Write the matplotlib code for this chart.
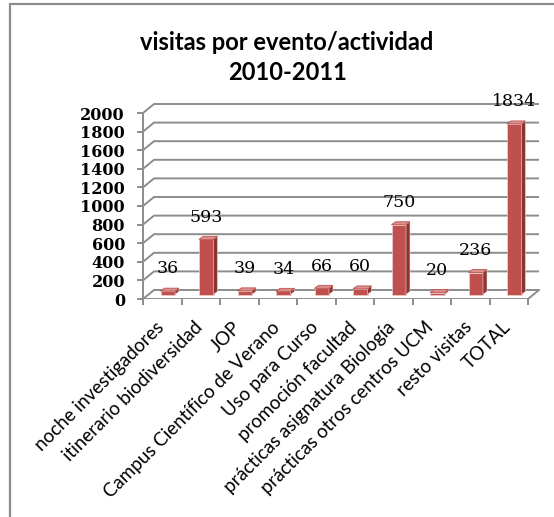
"""
Visitas por evento/actividad 2010-2011 - 3D style column chart
"""

import matplotlib
matplotlib.use('Agg')
import matplotlib.pyplot as plt
import matplotlib.transforms as mtransforms
from matplotlib.patches import Polygon, Rectangle

# data
categories = ['noche investigadores', 'itinerario biodiversidad', 'JOP',
              'Campus Científico de Verano', 'Uso para Curso', 'promoción facultad',
              'prácticas asignatura Biología', 'prácticas otros centros UCM',
              'resto visitas', 'TOTAL']
visits = [36, 593, 39, 34, 66, 60, 750, 20, 236, 1834]
y_ticks = [0, 200, 400, 600, 800, 1000, 1200, 1400, 1600, 1800, 2000]

W, H = 554, 517
px_x = 38.5      # pixels per category
px_y = 0.093     # pixels per visit unit

# depth of the back wall, in data units
wall_dx = 11 / px_x
wall_dy = 9 / px_y
# depth of each bar
bar_dx = 4 / px_x
bar_dy = 3 / px_y
bar_w = 14.5 / px_x

grey = '#8c8c8c'
front = '#c0504d'
side = '#8b3533'
top = '#d9908e'

fig = plt.figure(figsize=(W / 100, H / 100), dpi=100)
xlim = (-0.5, len(categories) - 0.5 + wall_dx + 0.15)
ylim = (0, 2150)
ax = fig.add_axes([143 / W, (H - 299) / H,
                   (xlim[1] - xlim[0]) * px_x / W, (ylim[1] - ylim[0]) * px_y / H])
ax.set_xlim(*xlim)
ax.set_ylim(*ylim)

x0 = -0.5
x1 = len(categories) - 0.5

# back wall gridlines with the slant on the left side
for v in y_ticks:
    ax.plot([x0, x0 + wall_dx, x1 + wall_dx], [v, v + wall_dy, v + wall_dy],
            color=grey, lw=1.4, zorder=1, solid_capstyle='butt')
# floor front edge and right edge
ax.plot([x0, x1, x1 + wall_dx], [0, 0, wall_dy], color=grey, lw=1.4, zorder=1)

# bars at half depth
xs = [i + wall_dx / 2 for i in range(len(categories))]
base = wall_dy / 2
bars = ax.bar(xs, visits, width=bar_w, bottom=base, color=front,
              edgecolor='#f2dcdb', linewidth=0.4, zorder=3)
for b in bars:
    l, r = b.get_x(), b.get_x() + b.get_width()
    t = b.get_y() + b.get_height()
    ax.add_patch(Polygon([(r, base), (r + bar_dx, base + bar_dy),
                          (r + bar_dx, t + bar_dy), (r, t)],
                         closed=True, facecolor=side, edgecolor='#f2dcdb',
                         linewidth=0.4, zorder=3))
    ax.add_patch(Polygon([(l, t), (l + bar_dx, t + bar_dy),
                          (r + bar_dx, t + bar_dy), (r, t)],
                         closed=True, facecolor=top, edgecolor=front,
                         linewidth=0.6, zorder=4))

# value labels
for x, v in zip(xs, visits):
    ax.annotate(str(v), (x, v + base), xytext=(0, 16), textcoords='offset points',
                ha='center', va='center', fontsize=12.5, family='DejaVu Serif',
                color='black', zorder=5)

# axes
for s in ['top', 'right', 'bottom']:
    ax.spines[s].set_visible(False)
ax.spines['left'].set_bounds(0, 2000)
ax.spines['left'].set_color(grey)
ax.spines['left'].set_linewidth(1.4)
ax.set_yticks(y_ticks)
ax.set_yticklabels([str(t) for t in y_ticks], family='DejaVu Serif',
                   fontweight='bold', fontsize=11.5)
ax.tick_params(axis='y', length=4, width=1.4, color=grey, pad=9)

ax.set_xticks([x0 + i for i in range(len(categories) + 1)])
ax.set_xticklabels([])
ax.tick_params(axis='x', which='major', length=4, width=1.4, color=grey)
ax.set_xticks(list(range(len(categories))), minor=True)
ax.set_xticklabels(categories, minor=True, rotation=45, ha='right', va='top',
                   rotation_mode='anchor', family='Lato', fontsize=13.5)
ax.tick_params(axis='x', which='minor', length=0, pad=14)
shift = mtransforms.ScaledTranslation(-7 / 100, 0, fig.dpi_scale_trans)
for lab in ax.get_xticklabels(minor=True):
    lab.set_transform(lab.get_transform() + shift)

fig.text(287 / W, 1 - 43 / H, 'visitas por evento/actividad', ha='center', va='center',
         family='Lato', fontweight='bold', fontsize=17)
fig.text(288 / W, 1 - 73 / H, '2010-2011', ha='center', va='center',
         family='Lato', fontweight='bold', fontsize=17)

# chart border
fig.add_artist(Rectangle((10 / W, -0.05), 1.0, 1.05 - 4 / H, transform=fig.transFigure,
                         fill=False, edgecolor=grey, linewidth=1.6))

fig.savefig('out.png', dpi=100)
